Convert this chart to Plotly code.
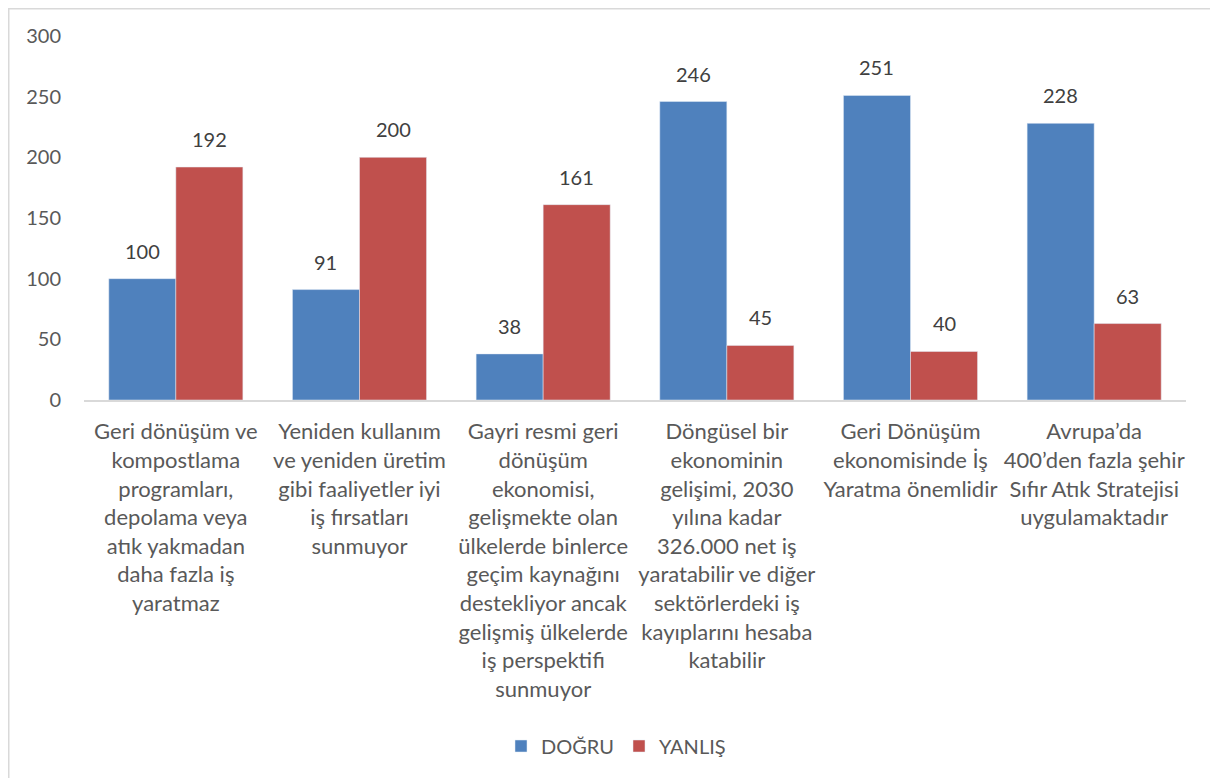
import plotly.graph_objects as go

categories = [
    "Geri dönüşüm ve<br>kompostlama<br>programları,<br>depolama veya<br>atık yakmadan<br>daha fazla iş<br>yaratmaz",
    "Yeniden kullanım<br>ve yeniden üretim<br>gibi faaliyetler iyi<br>iş fırsatları<br>sunmuyor",
    "Gayri resmi geri<br>dönüşüm<br>ekonomisi,<br>gelişmekte olan<br>ülkelerde binlerce<br>geçim kaynağını<br>destekliyor ancak<br>gelişmiş ülkelerde<br>iş perspektifi<br>sunmuyor",
    "Döngüsel bir<br>ekonominin<br>gelişimi, 2030<br>yılına kadar<br>326.000 net iş<br>yaratabilir ve diğer<br>sektörlerdeki iş<br>kayıplarını hesaba<br>katabilir",
    "Geri Dönüşüm<br>ekonomisinde İş<br>Yaratma önemlidir",
    "Avrupa’da<br>400’den fazla şehir<br>Sıfır Atık Stratejisi<br>uygulamaktadır",
]
dogru = [100, 91, 38, 246, 251, 228]
yanlis = [192, 200, 161, 45, 40, 63]

FONT = "Lato, 'Open Sans', sans-serif"
BARGAP = 0.27

# the page body adds an 8px offset, so work in figure coords = page - 8
OFF = 8
L, R, T, B = 84 - OFF, 1186 - OFF, 36 - OFF, 400 - OFF
W, H = 1218 - OFF, 778 - OFF
pw, ph = R - L, B - T
bar_w = pw / len(categories) * (1 - BARGAP) / 2

fig = go.Figure()
fig.add_trace(go.Bar(x=categories, y=dogru, name="DOĞRU", marker_color="#4F81BD"))
fig.add_trace(go.Bar(x=categories, y=yanlis, name="YANLIŞ", marker_color="#C0504D"))

# value labels sit a bit higher above the bars than plotly's "outside" text
annotations = []
for vals, shift in ((dogru, -bar_w / 2), (yanlis, bar_w / 2)):
    for cat, v in zip(categories, vals):
        annotations.append(dict(
            x=cat, y=v, text=str(v), showarrow=False, xshift=shift,
            yanchor="bottom", yshift=14,
            font=dict(family=FONT, size=20, color="#404040")))

fig.update_layout(
    width=W, height=H,
    margin=dict(l=L, r=W - R, t=T, b=H - B),
    paper_bgcolor="white", plot_bgcolor="white",
    font=dict(family=FONT, size=20, color="#595959"),
    barmode="group", bargap=BARGAP, bargroupgap=0,
    showlegend=True,
    legend=dict(orientation="h", x=(501 - 84) / pw, xanchor="left",
                y=(B - (746 - OFF)) / ph, yanchor="middle",
                font=dict(size=20, color="#595959"),
                itemwidth=30, traceorder="normal"),
    xaxis=dict(showline=True, linecolor="#D9D9D9", linewidth=2,
               ticks="", tickfont=dict(size=22, color="#595959"),
               tickangle=0, showgrid=False, ticklabelstandoff=11),
    yaxis=dict(range=[0, 300], dtick=50, showgrid=False, zeroline=False,
               showline=False, ticks="", ticklabelstandoff=22,
               tickfont=dict(size=20, color="#595959")),
    annotations=annotations,
    shapes=[dict(type="rect", xref="paper", yref="paper",
                 x0=(0.75 - L) / pw, x1=(1209 - L) / pw,
                 y0=(B - (H + 5)) / ph, y1=(B - 0.75) / ph,
                 line=dict(color="#D9D9D9", width=1.5))],
)

fig.write_html("out.html")
